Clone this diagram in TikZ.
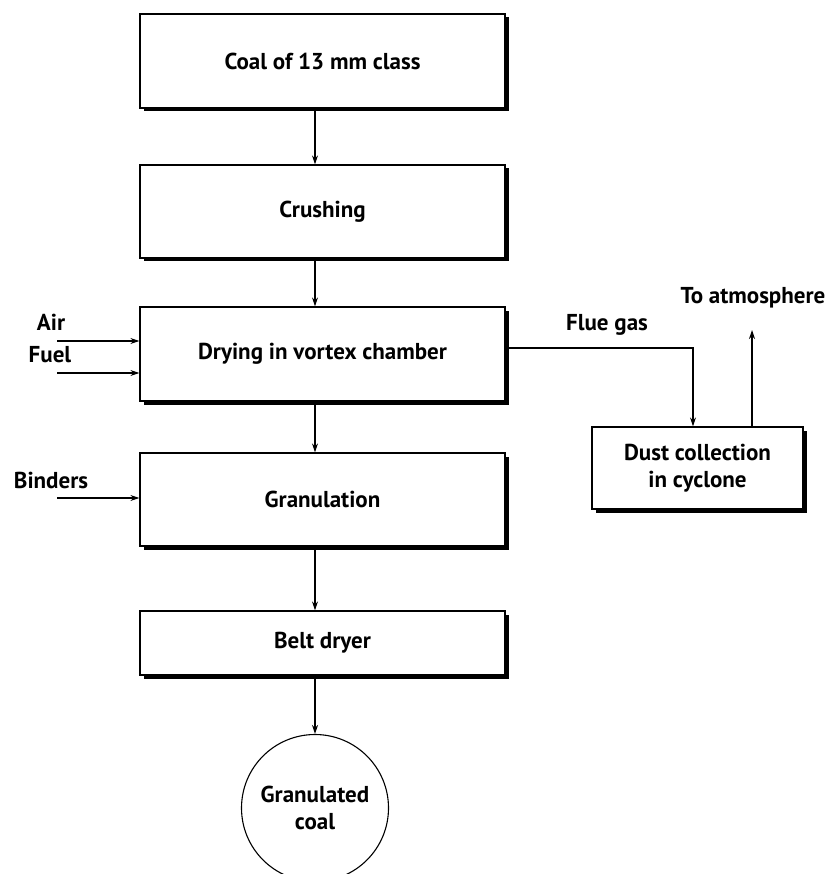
\documentclass[tikz,border=0pt]{standalone}
\usepackage{fontspec}
\setmainfont{PT Sans}
\usetikzlibrary{arrows.meta,shadows,calc}
\begin{document}
\begin{tikzpicture}[x=1pt,y=-1pt,
  box/.style={draw=black,line width=1.3pt,fill=white,rectangle,minimum width=365pt,
    drop shadow={shadow xshift=3.5pt,shadow yshift=-3.5pt,fill=black,opacity=1},
    font=\fontsize{23}{27}\selectfont\bfseries,align=center,inner sep=0pt},
  lbl/.style={font=\fontsize{23}{27}\selectfont\bfseries,inner sep=0pt},
  arr/.style={line width=1.1pt,-{Stealth[length=9pt,width=6pt]}}]
\useasboundingbox (0,0) rectangle (833,874);
\node[box,minimum height=94pt] (b1) at (322.5,61) {Coal of 13 mm class};
\node[box,minimum height=93pt] (b2) at (322.5,211.5) {Crushing};
\node[box,minimum height=94pt] (b3) at (322.5,354) {Drying in vortex chamber};
\node[box,minimum height=93pt] (b4) at (322.5,499.5) {Granulation};
\node[box,minimum height=64pt] (b5) at (322.5,643) {Belt dryer};
\node[box,minimum width=211pt,minimum height=82pt] (dust) at (697.5,468) {Dust collection\\in cyclone};
\node[draw=black,line width=1.1pt,circle,minimum size=147pt,inner sep=0pt,
  font=\fontsize{23}{27}\selectfont\bfseries,align=center] (gc) at (315,808) {Granulated\\coal};
\draw[arr] ([xshift=-7.5pt]b1.south) -- ([xshift=-7.5pt]b2.north);
\draw[arr] ([xshift=-7.5pt]b2.south) -- ([xshift=-7.5pt]b3.north);
\draw[arr] ([xshift=-7.5pt]b3.south) -- ([xshift=-7.5pt]b4.north);
\draw[arr] ([xshift=-7.5pt]b4.south) -- ([xshift=-7.5pt]b5.north);
\draw[arr] ([xshift=-7.5pt]b5.south) -- (gc.north);
\node[lbl] (air) at (51,322) {Air};
\node[lbl] (fuel) at (50,355) {Fuel};
\node[lbl] (bind) at (51,480) {Binders};
\coordinate (airS) at (57,341);
\coordinate (fuelS) at (57,373);
\coordinate (bindS) at (57,498);
\draw[arr] (airS) -- (airS -| b3.west);
\draw[arr] (fuelS) -- (fuelS -| b3.west);
\draw[arr] (bindS) -- (bindS -| b4.west);
\draw[arr] ([yshift=6pt]b3.east) -| ([xshift=-4.5pt]dust.north);
\node[lbl] (flue) at (607,325) {Flue gas};
\coordinate (atm) at (752,330);
\draw[arr] (atm |- dust.north) -- (atm);
\node[lbl] (atmt) at (753,298) {To atmosphere};
\end{tikzpicture}
\end{document}
